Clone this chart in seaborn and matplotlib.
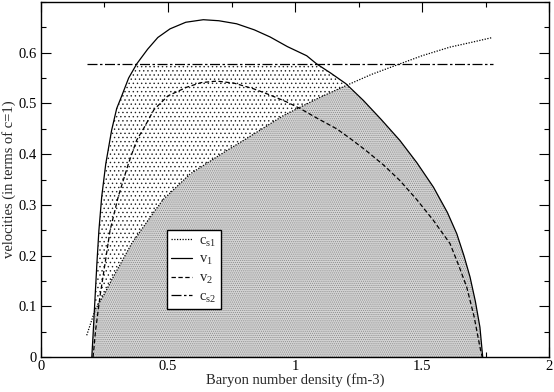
import numpy as np
import pandas as pd
import matplotlib
matplotlib.use("Agg")
import matplotlib.pyplot as plt
import seaborn as sns

# ---- data ----
v1_x = [0.200, 0.206, 0.213, 0.220, 0.228, 0.239, 0.255, 0.278, 0.298, 0.318, 0.345,
        0.377, 0.420, 0.460, 0.508, 0.570, 0.639, 0.700, 0.770, 0.840, 0.902, 0.970,
        1.046, 1.085, 1.140, 1.200, 1.269, 1.340, 1.413, 1.480, 1.545, 1.600, 1.637,
        1.665, 1.689, 1.710, 1.728, 1.739]
v1_y = [0.000, 0.053, 0.119, 0.184, 0.250, 0.316, 0.381, 0.447, 0.490, 0.515, 0.550,
        0.578, 0.607, 0.630, 0.647, 0.660, 0.665, 0.663, 0.657, 0.645, 0.631, 0.612,
        0.594, 0.578, 0.560, 0.539, 0.506, 0.468, 0.427, 0.383, 0.335, 0.285, 0.243,
        0.200, 0.158, 0.110, 0.059, 0.000]

v2_x = [0.205, 0.215, 0.232, 0.252, 0.272, 0.304, 0.344, 0.377, 0.409, 0.445, 0.500,
        0.574, 0.630, 0.692, 0.760, 0.836, 0.900, 0.967, 1.020, 1.090, 1.164, 1.217,
        1.280, 1.350, 1.413, 1.480, 1.544, 1.610, 1.645, 1.676, 1.705, 1.728, 1.737]
v2_y = [0.000, 0.053, 0.119, 0.184, 0.250, 0.316, 0.381, 0.428, 0.455, 0.488, 0.515,
        0.532, 0.541, 0.544, 0.540, 0.529, 0.517, 0.503, 0.490, 0.470, 0.450, 0.431,
        0.407, 0.378, 0.348, 0.310, 0.270, 0.224, 0.180, 0.138, 0.080, 0.020, 0.000]

cs1_x = [0.180, 0.213, 0.250, 0.278, 0.357, 0.449, 0.480, 0.587, 0.731, 0.797, 0.954,
         1.098, 1.200, 1.300, 1.413, 1.500, 1.610, 1.700, 1.778]
cs1_y = [0.043, 0.093, 0.125, 0.152, 0.224, 0.289, 0.310, 0.361, 0.407, 0.427, 0.476,
         0.512, 0.535, 0.557, 0.578, 0.594, 0.611, 0.621, 0.630]

cs2_x = [0.180, 1.778]
cs2_y = [0.577, 0.577]

labels = [r"$\mathregular{c_{s1}}$", r"$\mathregular{v_{1}}$",
          r"$\mathregular{v_{2}}$", r"$\mathregular{c_{s2}}$"]

# ---- style ----
sns.set_theme(style="ticks")
plt.rcParams["font.family"] = ["Liberation Serif", "DejaVu Serif"]
plt.rcParams["mathtext.fontset"] = "custom"
plt.rcParams["mathtext.rm"] = "Liberation Serif"
plt.rcParams["mathtext.it"] = "Liberation Serif:italic"
plt.rcParams["hatch.linewidth"] = 0.5

FS = 10.5
fig = plt.figure(figsize=(5.54, 3.92), dpi=100)
ax = fig.add_axes([0.074, 0.089, 0.917, 0.906])

# ---- fills ----
vx = np.array(v1_x)
vy = np.array(v1_y)
cs_on_v = np.interp(vx, cs1_x, cs1_y)
lower = np.minimum(vy, cs_on_v)
upper = np.minimum(vy, cs2_y[0])
ax.fill_between(vx, lower, upper, facecolor="none", edgecolor="#222222",
                hatch="....", linewidth=0)
ax.fill_between(vx, 0, lower, facecolor="#d4d4d4", edgecolor="#8a8a8a",
                hatch="........", linewidth=0)

# ---- lines ----
lw = 0.9
sns.lineplot(x=cs1_x, y=cs1_y, sort=False, estimator=None, ax=ax, color="black",
             lw=lw, linestyle=(0, (1, 1.2)), label=labels[0])
sns.lineplot(x=v1_x, y=v1_y, sort=False, estimator=None, ax=ax, color="black",
             lw=lw, linestyle="-", label=labels[1])
sns.lineplot(x=v2_x, y=v2_y, sort=False, estimator=None, ax=ax, color="black",
             lw=lw, linestyle=(0, (3.5, 2)), label=labels[2])
sns.lineplot(x=cs2_x, y=cs2_y, sort=False, estimator=None, ax=ax, color="black",
             lw=lw, linestyle=(0, (8, 2, 2, 2)), label=labels[3])

# ---- axes ----
ax.set_xlim(0, 2)
ax.set_ylim(0, 0.7)
ax.set_xticks([0, 0.5, 1, 1.5, 2])
ax.set_xticklabels(["0", "0.5", "1", "1.5", "2"])
ax.set_yticks([0, 0.1, 0.2, 0.3, 0.4, 0.5, 0.6])
ax.set_yticklabels(["0", "0.1", "0.2", "0.3", "0.4", "0.5", "0.6"])
ax.set_xticks(np.arange(0, 2.01, 0.25), minor=True)
ax.set_yticks(np.arange(0, 0.701, 0.05), minor=True)
ax.tick_params(which="both", direction="in", top=True, right=True,
               labelsize=FS, width=0.8, colors="black")
ax.tick_params(axis="x", which="both", pad=2)
ax.tick_params(axis="y", which="both", pad=3)
ax.tick_params(which="major", length=7.5)
ax.tick_params(which="minor", length=3.5)
for s in ax.spines.values():
    s.set_linewidth(1.0)
    s.set_color("black")
ax.set_xlabel("Baryon number density (fm-3)", fontsize=FS, labelpad=0)
ax.set_ylabel("velocities (in terms of c=1)", fontsize=FS, labelpad=2)

leg = ax.legend(loc="upper left", bbox_to_anchor=(0.248, 0.358), frameon=True,
                fancybox=False, edgecolor="black", framealpha=1, fontsize=FS,
                handlelength=1.4, handletextpad=0.5, borderpad=0.3,
                labelspacing=0.3, borderaxespad=0)
leg.get_frame().set_linewidth(1.0)

fig.savefig("out.png", dpi=100)
